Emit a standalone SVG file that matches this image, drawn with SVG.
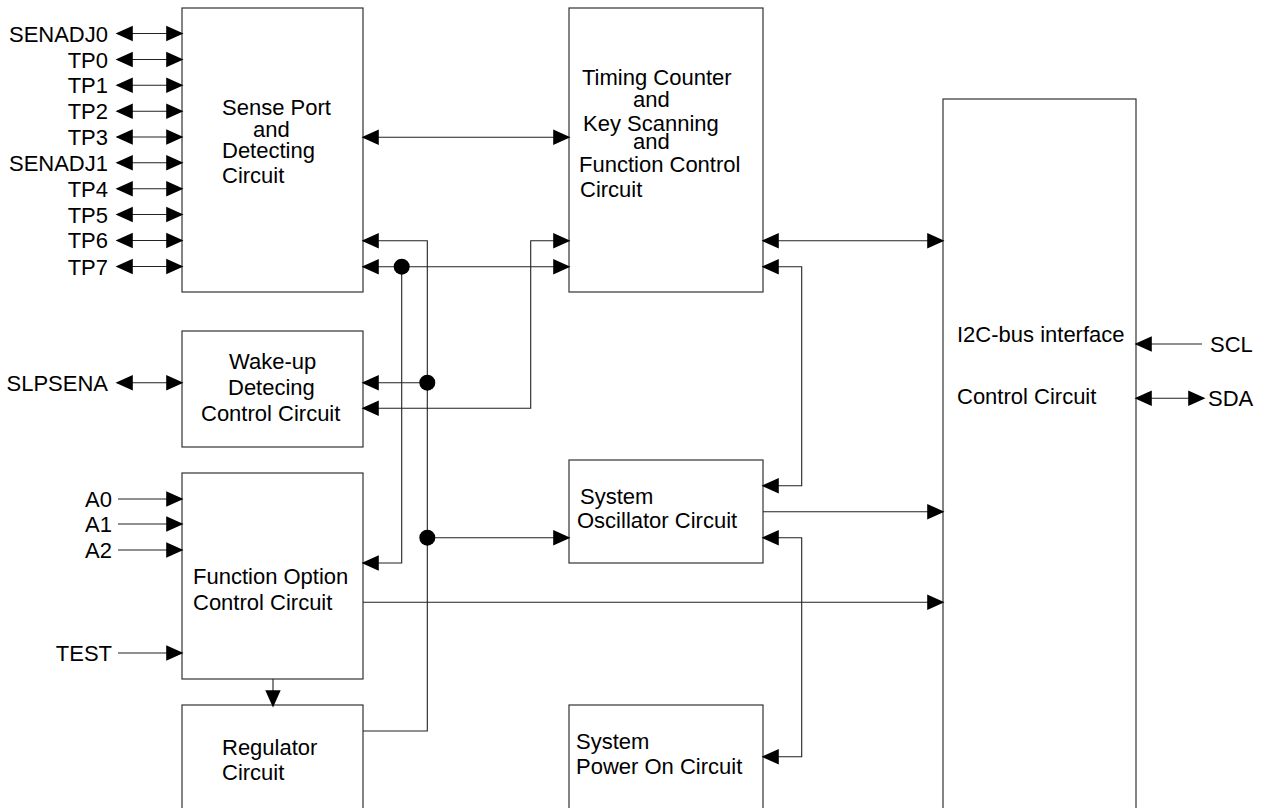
<svg xmlns="http://www.w3.org/2000/svg" width="1264" height="808" viewBox="0 0 1264 808">
<style>
.box{fill:#fff;stroke:#333;stroke-width:1.2}
.t{font-family:"Liberation Sans",Arial,sans-serif;font-size:22px;fill:#000}
.r{text-anchor:end}
.c{fill:none;stroke:#222;stroke-width:1.1}
.dot{fill:#000}
</style>
<defs>
<marker id="ah" markerUnits="userSpaceOnUse" markerWidth="18" markerHeight="16" refX="16" refY="7.5" orient="auto-start-reverse" overflow="visible">
<path d="M1,1 L15.5,7.5 L1,14 z" fill="#000" stroke="#000" stroke-width="1.6" stroke-linejoin="miter"/>
</marker>
</defs>
<rect width="1264" height="808" fill="#fff"/>

<g id="sense-port">
<rect class="box" x="182" y="8" width="181" height="284"/>
<text class="t" x="222" y="115">Sense Port</text>
<text class="t" x="253" y="137">and</text>
<text class="t" x="222" y="158">Detecting</text>
<text class="t" x="222" y="183">Circuit</text>
</g>

<g id="timing">
<rect class="box" x="569" y="8" width="194" height="284"/>
<text class="t" x="582" y="85">Timing Counter</text>
<text class="t" x="633" y="107">and</text>
<text class="t" x="583" y="131">Key Scanning</text>
<text class="t" x="633" y="149">and</text>
<text class="t" x="579" y="172">Function Control</text>
<text class="t" x="580" y="197">Circuit</text>
</g>

<g id="i2c">
<rect class="box" x="943" y="99" width="193" height="730"/>
<text class="t" x="957" y="342">I2C-bus interface</text>
<text class="t" x="957" y="404">Control Circuit</text>
</g>

<g id="wakeup">
<rect class="box" x="182" y="331" width="181" height="116"/>
<text class="t" x="229" y="369">Wake-up</text>
<text class="t" x="228" y="395">Detecing</text>
<text class="t" x="201" y="421">Control Circuit</text>
</g>

<g id="function-option">
<rect class="box" x="182" y="473" width="181" height="206"/>
<text class="t" x="193" y="584">Function Option</text>
<text class="t" x="193" y="610">Control Circuit</text>
</g>

<g id="regulator">
<rect class="box" x="182" y="705" width="181" height="120"/>
<text class="t" x="222" y="755">Regulator</text>
<text class="t" x="222" y="780">Circuit</text>
</g>

<g id="oscillator">
<rect class="box" x="569" y="460" width="194" height="103"/>
<text class="t" x="580" y="504">System</text>
<text class="t" x="577" y="528">Oscillator Circuit</text>
</g>

<g id="power-on">
<rect class="box" x="569" y="705" width="194" height="120"/>
<text class="t" x="576" y="749">System</text>
<text class="t" x="576" y="774">Power On Circuit</text>
</g>

<g id="pin-labels">
<text class="t r" x="108" y="41.5">SENADJ0</text>
<text class="t r" x="108" y="67.5">TP0</text>
<text class="t r" x="108" y="93.3">TP1</text>
<text class="t r" x="108" y="119.2">TP2</text>
<text class="t r" x="108" y="145">TP3</text>
<text class="t r" x="108" y="170.8">SENADJ1</text>
<text class="t r" x="108" y="196.7">TP4</text>
<text class="t r" x="108" y="222.5">TP5</text>
<text class="t r" x="108" y="248.3">TP6</text>
<text class="t r" x="108" y="274.5">TP7</text>
<text class="t r" x="108" y="390.7">SLPSENA</text>
<text class="t r" x="112" y="507">A0</text>
<text class="t r" x="112" y="532">A1</text>
<text class="t r" x="112" y="558">A2</text>
<text class="t r" x="112" y="661">TEST</text>
<text class="t" x="1210" y="352">SCL</text>
<text class="t" x="1208" y="406">SDA</text>
</g>

<g id="connectors">
<path class="c" d="M117,33.5 H182" marker-start="url(#ah)" marker-end="url(#ah)"/>
<path class="c" d="M117,59.5 H182" marker-start="url(#ah)" marker-end="url(#ah)"/>
<path class="c" d="M117,85.3 H182" marker-start="url(#ah)" marker-end="url(#ah)"/>
<path class="c" d="M117,111.2 H182" marker-start="url(#ah)" marker-end="url(#ah)"/>
<path class="c" d="M117,137 H182" marker-start="url(#ah)" marker-end="url(#ah)"/>
<path class="c" d="M117,162.8 H182" marker-start="url(#ah)" marker-end="url(#ah)"/>
<path class="c" d="M117,188.7 H182" marker-start="url(#ah)" marker-end="url(#ah)"/>
<path class="c" d="M117,214.5 H182" marker-start="url(#ah)" marker-end="url(#ah)"/>
<path class="c" d="M117,240.5 H182" marker-start="url(#ah)" marker-end="url(#ah)"/>
<path class="c" d="M117,266.5 H182" marker-start="url(#ah)" marker-end="url(#ah)"/>
<path class="c" d="M117,382.7 H182" marker-start="url(#ah)" marker-end="url(#ah)"/>
<path class="c" d="M118,499 H182" marker-end="url(#ah)"/>
<path class="c" d="M118,524 H182" marker-end="url(#ah)"/>
<path class="c" d="M118,550 H182" marker-end="url(#ah)"/>
<path class="c" d="M118,653 H182" marker-end="url(#ah)"/>

<path class="c" d="M363,137.3 H569" marker-start="url(#ah)" marker-end="url(#ah)"/>
<path class="c" d="M363,240.7 H427.3 V731 H363" marker-start="url(#ah)"/>
<path class="c" d="M427.3,382.7 H363" marker-end="url(#ah)"/>
<path class="c" d="M427.3,537.7 H569" marker-end="url(#ah)"/>
<path class="c" d="M363,266.7 H569" marker-start="url(#ah)" marker-end="url(#ah)"/>
<path class="c" d="M401.7,266.7 V563 H363" marker-end="url(#ah)"/>
<path class="c" d="M569,240.7 H530.7 V408.3 H363" marker-start="url(#ah)" marker-end="url(#ah)"/>
<circle class="dot" cx="401.7" cy="266.7" r="8"/>
<circle class="dot" cx="427.3" cy="382.7" r="8"/>
<circle class="dot" cx="427.3" cy="537.7" r="8"/>

<path class="c" d="M763,240.7 H943" marker-start="url(#ah)" marker-end="url(#ah)"/>
<path class="c" d="M763,266.7 H801.7 V485.7 H763" marker-start="url(#ah)" marker-end="url(#ah)"/>
<path class="c" d="M763,511.7 H943" marker-end="url(#ah)"/>
<path class="c" d="M763,537.7 H801.7 V756.7 H763" marker-start="url(#ah)" marker-end="url(#ah)"/>
<path class="c" d="M363,602.3 H943" marker-end="url(#ah)"/>
<path class="c" d="M273,679 V706" marker-end="url(#ah)"/>
<path class="c" d="M1202,344 H1136" marker-end="url(#ah)"/>
<path class="c" d="M1136,398.3 H1204" marker-start="url(#ah)" marker-end="url(#ah)"/>
</g>
</svg>
